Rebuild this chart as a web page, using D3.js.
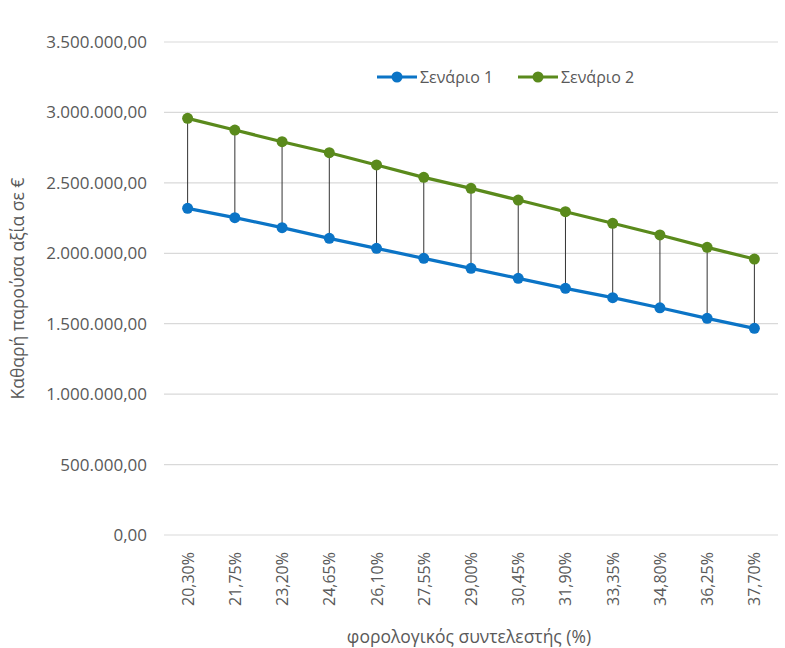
<!DOCTYPE html>
<html>
<head>
<meta charset="utf-8">
<script src="https://cdn.jsdelivr.net/npm/d3@7"></script>
<style>
  html, body { margin: 0; padding: 0; background: #fff; }
  svg { display: block; font-family: "Open Sans", sans-serif; }
</style>
</head>
<body>
<svg id="chart" width="785" height="648"></svg>
<script>
// Tax rate categories (x axis)
const rates = ["20,30%", "21,75%", "23,20%", "24,65%", "26,10%", "27,55%", "29,00%",
               "30,45%", "31,90%", "33,35%", "34,80%", "36,25%", "37,70%"];
// Net present value per scenario (€)
const scenario1 = [2319000, 2253000, 2182000, 2106000, 2035000, 1964000, 1893000,
                   1822000, 1751000, 1685000, 1613000, 1538000, 1467000];
const scenario2 = [2958000, 2875000, 2792000, 2714000, 2627000, 2539000, 2461000,
                   2378000, 2295000, 2213000, 2130000, 2042000, 1959000];
const seriesNames = ["Σενάριο 1", "Σενάριο 2"];
const yTicks = [0, 500000, 1000000, 1500000, 2000000, 2500000, 3000000, 3500000];

const colors = ["#0b74c6", "#5a8a1c"];
const textColor = "#595959";

const svg = d3.select("#chart");
const plot = { left: 164, right: 778, top: 42, bottom: 535 };

const x = d3.scaleBand().domain(rates).range([plot.left, plot.right]);
const y = d3.scaleLinear().domain([0, 3500000]).range([plot.bottom, plot.top]);

// Euro-style number format: 3.500.000,00
const fmt = d3.formatLocale({ decimal: ",", thousands: ".", grouping: [3], currency: ["", "€"] }).format(",.2f");

// Horizontal gridlines
svg.append("g")
  .selectAll("line").data(yTicks).join("line")
  .attr("x1", plot.left).attr("x2", plot.right)
  .attr("y1", d => y(d)).attr("y2", d => y(d))
  .attr("stroke", "#d9d9d9").attr("stroke-width", 1.2);

// Y axis labels
const yAxis = svg.append("g")
  .attr("transform", `translate(${plot.left},0)`)
  .call(d3.axisLeft(y).tickValues(yTicks).tickFormat(fmt).tickSize(0).tickPadding(17));
yAxis.select(".domain").remove();
yAxis.selectAll("text")
  .attr("fill", textColor).attr("font-size", 17).attr("font-family", "Open Sans");

// X axis labels, rotated
const xAxis = svg.append("g")
  .attr("transform", `translate(0,${plot.bottom})`)
  .call(d3.axisBottom(x).tickSize(0).tickPadding(0));
xAxis.select(".domain").remove();
xAxis.selectAll("text")
  .attr("fill", textColor).attr("font-size", 16).attr("font-family", "Open Sans")
  .attr("text-anchor", "end")
  .attr("dy", null)
  .attr("transform", "translate(0,17) rotate(-90)")
  .attr("x", 0).attr("y", 6);

// Axis titles
svg.append("text")
  .attr("x", (plot.left + plot.right) / 2 - 2).attr("y", 643)
  .attr("text-anchor", "middle")
  .attr("fill", textColor).attr("font-size", 17.5)
  .text("φορολογικός συντελεστής (%)");

svg.append("text")
  .attr("transform", `translate(24,${(plot.top + plot.bottom) / 2}) rotate(-90)`)
  .attr("text-anchor", "middle")
  .attr("fill", textColor).attr("font-size", 17.5)
  .text("Καθαρή παρούσα αξία σε €");

const cx = d => x(d) + x.bandwidth() / 2;

// Drop lines joining the two scenarios
svg.append("g")
  .selectAll("line").data(rates).join("line")
  .attr("x1", d => cx(d)).attr("x2", d => cx(d))
  .attr("y1", (d, i) => y(scenario1[i])).attr("y2", (d, i) => y(scenario2[i]))
  .attr("stroke", "#333").attr("stroke-width", 1);

// Series lines and markers
const line = d3.line().x((d, i) => cx(rates[i])).y(d => y(d));
[scenario1, scenario2].forEach((vals, s) => {
  svg.append("path").datum(vals)
    .attr("d", line).attr("fill", "none")
    .attr("stroke", colors[s]).attr("stroke-width", 3.2)
    .attr("stroke-linejoin", "round");
  svg.append("g").selectAll("circle").data(vals).join("circle")
    .attr("cx", (d, i) => cx(rates[i])).attr("cy", d => y(d))
    .attr("r", 5.5).attr("fill", colors[s]);
});

// Legend
const legendX = [377, 518];
seriesNames.forEach((name, s) => {
  const g = svg.append("g").attr("transform", `translate(${legendX[s]},77)`);
  g.append("line").attr("x1", 0).attr("x2", 40).attr("y1", 0).attr("y2", 0)
    .attr("stroke", colors[s]).attr("stroke-width", 3.2);
  g.append("circle").attr("cx", 20).attr("cy", 0).attr("r", 5.5).attr("fill", colors[s]);
  g.append("text").attr("x", 43).attr("y", 0).attr("dy", "0.35em")
    .attr("fill", textColor).attr("font-size", 16)
    .text(name);
});
</script>
</body>
</html>
